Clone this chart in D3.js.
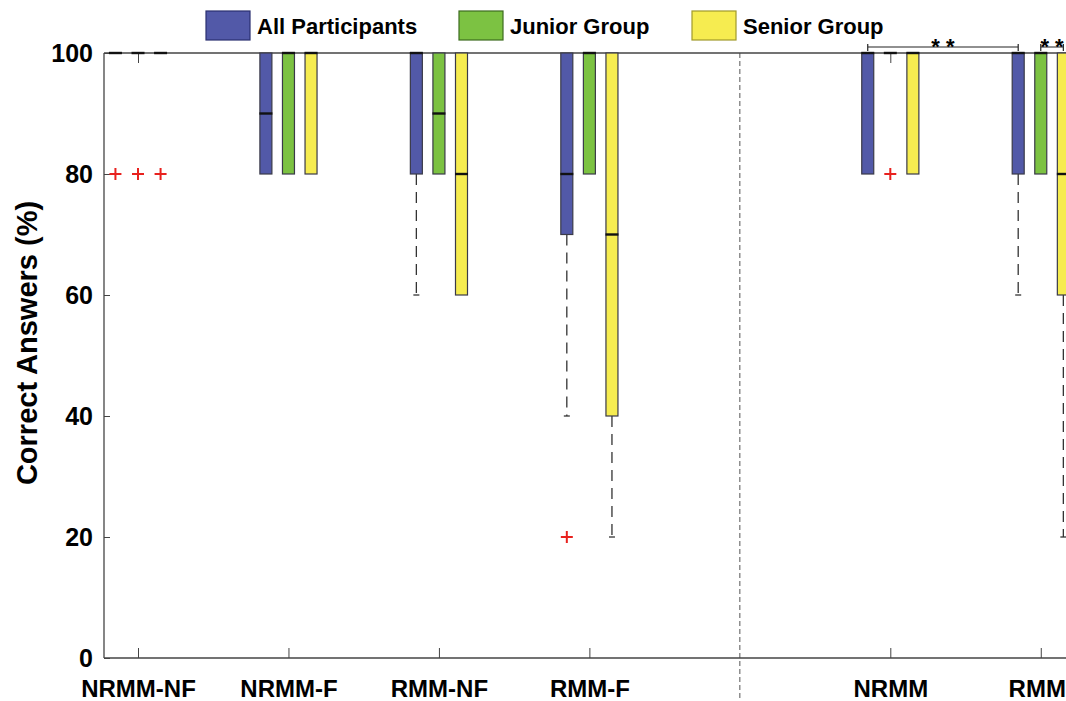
<!DOCTYPE html>
<html>
<head>
<meta charset="utf-8">
<script src="https://cdn.jsdelivr.net/npm/d3@7"></script>
<style>
  body { margin: 0; background: #fff; }
  svg { font-family: "Liberation Sans", Arial, sans-serif; font-weight: bold; }
</style>
</head>
<body>
<div id="chart"></div>
<script>
// categories and their slot on the x axis (slot 5 is the divider)
var categories = ["NRMM-NF", "NRMM-F", "RMM-NF", "RMM-F", "NRMM", "RMM"];
var positions = [1, 2, 3, 4, 6, 7];
var dividerPos = 5;
var groups = ["All Participants", "Junior Group", "Senior Group"];
var yTicks = [0, 20, 40, 60, 80, 100];

// box statistics per group, one value per category
var allQ1 = [100, 80, 80, 70, 80, 80];
var allMed = [100, 90, 100, 80, 100, 100];
var allQ3 = [100, 100, 100, 100, 100, 100];
var allLow = [100, 80, 60, 40, 80, 60];
var allOut = [[80], [], [], [20], [], []];

var junQ1 = [100, 80, 80, 80, 100, 80];
var junMed = [100, 100, 90, 100, 100, 100];
var junQ3 = [100, 100, 100, 100, 100, 100];
var junLow = [100, 80, 80, 80, 100, 80];
var junOut = [[80], [], [], [], [80], []];

var senQ1 = [100, 80, 60, 40, 80, 60];
var senMed = [100, 100, 80, 70, 100, 80];
var senQ3 = [100, 100, 100, 100, 100, 100];
var senLow = [100, 80, 60, 20, 80, 20];
var senOut = [[80], [], [], [], [], []];

// significance brackets: [from position, to position, label]
var sigPairs = [
	[6 - 0.15, 7 - 0.15, "* *"],
	[7, 7 + 0.15, "* *"]
];

var stats = [
	{ q1: allQ1, med: allMed, q3: allQ3, low: allLow, out: allOut },
	{ q1: junQ1, med: junMed, q3: junQ3, low: junLow, out: junOut },
	{ q1: senQ1, med: senMed, q3: senQ3, low: senLow, out: senOut }
];

var width = 1066;
var height = 701;
var svg = d3.select("#chart").append("svg")
	.attr("width", width)
	.attr("height", height);

var x = d3.scaleLinear().domain([0.774, 7.5]).range([104, 1116]);
var y = d3.scaleLinear().domain([0, 100]).range([658, 53]);

var colors = d3.scaleOrdinal().domain(groups).range(["#5259a8", "#7cc242", "#f6ec50"]);
var borders = d3.scaleOrdinal().domain(groups).range(["#2b3070", "#3c6b1e", "#a19a2a"]);
var offset = 0.15;
var boxW = 12;

// divider between the two halves
svg.append("line")
	.attr("x1", x(dividerPos)).attr("x2", x(dividerPos))
	.attr("y1", y(100)).attr("y2", height)
	.attr("stroke", "#555")
	.attr("stroke-width", 1)
	.attr("stroke-dasharray", "5,3");

// axes (box style, ticks pointing inward)
var axisColor = "#444";
var yAxis = svg.append("g")
	.attr("transform", `translate(${x.range()[0]},0)`)
	.call(d3.axisLeft(y).tickValues(yTicks).tickSize(-6).tickPadding(11));
var xBottom = svg.append("g")
	.attr("transform", `translate(0,${y(0)})`)
	.call(d3.axisBottom(x).tickValues(positions).tickSize(-10).tickFormat((d, i) => categories[i]).tickPadding(22));
var xTop = svg.append("g")
	.attr("transform", `translate(0,${y(100)})`)
	.call(d3.axisTop(x).tickValues(positions).tickSize(-10).tickFormat(""));

[yAxis, xBottom, xTop].forEach((g) => {
	g.select(".domain").attr("stroke", axisColor).attr("stroke-width", 1.3);
	g.selectAll(".tick line").attr("stroke", axisColor).attr("stroke-width", 1);
	g.selectAll(".tick text").attr("fill", "#000").attr("font-weight", "bold");
});
yAxis.selectAll(".tick text").attr("font-size", "25px");
xBottom.selectAll(".tick text").attr("font-size", "24px");
// last label sits at the right edge, keep it inside the picture
xBottom.selectAll(".tick text").filter((d) => d === 7).attr("dx", "-4");
// plain frame lines without the end ticks
xTop.select(".domain").attr("d", `M${x.range()[0]},0H${x.range()[1]}`);
yAxis.select(".domain").attr("d", `M0,${y(0)}V${y(100)}`);
xBottom.select(".domain").attr("d", `M${x.range()[0]},0H${x.range()[1]}`);

// Y axis label
svg.append("text")
	.attr("text-anchor", "middle")
	.attr("transform", "translate(37,343) rotate(-90)")
	.attr("font-size", "29px")
	.text("Correct Answers (%)");

// boxes
groups.forEach((group, gi) => {
	var s = stats[gi];
	var gx = (i) => x(positions[i] + (gi - 1) * offset);
	var g = svg.append("g").attr("class", "group-" + gi);

	categories.forEach((cat, i) => {
		var cx = gx(i);
		// whisker
		if (s.low[i] < s.q1[i]) {
			g.append("line")
				.attr("x1", cx).attr("x2", cx)
				.attr("y1", y(s.q1[i])).attr("y2", y(s.low[i]))
				.attr("stroke", "#333")
				.attr("stroke-width", 1.3)
				.attr("stroke-dasharray", "11,7");
			g.append("line")
				.attr("x1", cx - 3).attr("x2", cx + 3)
				.attr("y1", y(s.low[i])).attr("y2", y(s.low[i]))
				.attr("stroke", "#333")
				.attr("stroke-width", 1.3);
		}
		// box
		if (s.q3[i] > s.q1[i]) {
			g.append("rect")
				.attr("x", cx - boxW / 2)
				.attr("y", y(s.q3[i]))
				.attr("width", boxW)
				.attr("height", y(s.q1[i]) - y(s.q3[i]))
				.attr("fill", colors(group))
				.attr("stroke", "#3a3a48")
				.attr("stroke-width", 1.2);
		}
		// median
		g.append("line")
			.attr("x1", cx - boxW / 2 - 0.5).attr("x2", cx + boxW / 2 + 0.5)
			.attr("y1", y(s.med[i])).attr("y2", y(s.med[i]))
			.attr("stroke", "#111")
			.attr("stroke-width", 2.4);
		// outliers
		s.out[i].forEach((v) => {
			g.append("path")
				.attr("d", `M${cx - 6},${y(v)}H${cx + 6}M${cx},${y(v) - 6}V${y(v) + 6}`)
				.attr("stroke", "#e8211e")
				.attr("stroke-width", 2)
				.attr("fill", "none");
		});
	});
});

// significance brackets
sigPairs.forEach((p) => {
	var x1 = x(p[0]), x2 = x(p[1]), by = 47;
	svg.append("path")
		.attr("d", `M${x1},${by - 3}V${by + 4}M${x1},${by}H${x2}M${x2},${by - 3}V${by + 4}`)
		.attr("stroke", "#222")
		.attr("stroke-width", 1.2)
		.attr("fill", "none");
	svg.append("text")
		.attr("x", (x1 + x2) / 2)
		.attr("y", 54)
		.attr("text-anchor", "middle")
		.attr("font-size", "22px")
		.text(p[2]);
});

// legend
var legendX = [206, 459, 692];
groups.forEach((group, i) => {
	var row = svg.append("g").attr("transform", `translate(${legendX[i]},11)`);
	row.append("rect")
		.attr("width", 44)
		.attr("height", 29)
		.attr("fill", colors(group))
		.attr("stroke", borders(group))
		.attr("stroke-width", 1.2);
	row.append("text")
		.attr("x", 51)
		.attr("y", 23)
		.attr("font-size", "22px")
		.text(group);
});
</script>
</body>
</html>
